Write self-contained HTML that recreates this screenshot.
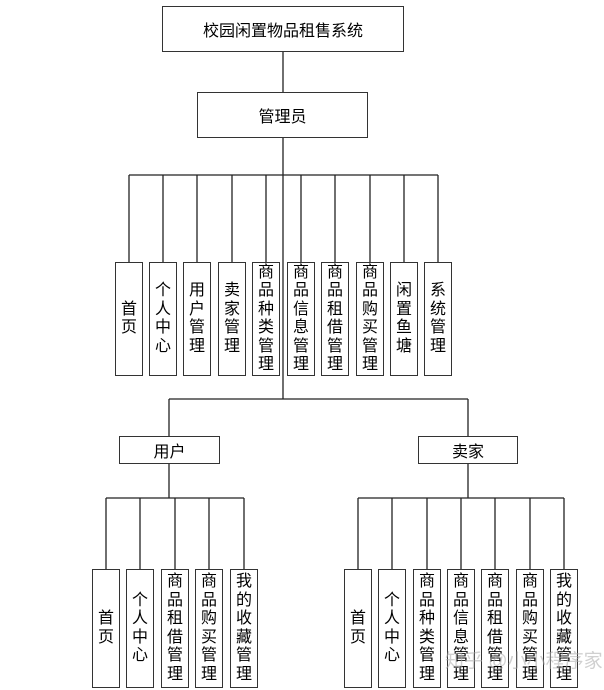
<!DOCTYPE html>
<html><head><meta charset="utf-8"><style>
body{margin:0;width:604px;height:690px;background:#fff;position:relative;overflow:hidden;font-family:"Liberation Sans","Noto Sans CJK SC",sans-serif;color:#000}
.b{position:absolute;box-sizing:border-box;border:1.5px solid #333;background:#fff;display:flex;align-items:center;justify-content:center;font-size:16px}
.v{width:28px;flex-direction:column;line-height:18.5px;text-align:center}
.t{top:262px;height:114px}
.u{top:569px;height:119px}
svg{position:absolute;left:0;top:0}
.wm{position:absolute;left:445px;top:646px;font-size:19px;color:rgba(170,170,170,0.55);white-space:nowrap}
</style></head><body>
<svg width="604" height="690"><g stroke="#222" stroke-width="1.3" fill="none">
<path d="M283 52V92M283 137V399M129 175H438"/>
<path d="M129 175V262M163 175V262M197 175V262M232 175V262M266 175V262M301 175V262M335 175V262M370 175V262M404 175V262M438 175V262"/>
<path d="M169 399H468M169 399V436M468 399V436"/>
<path d="M169 463V498M106 498H244M106 498V569M140 498V569M175 498V569M209 498V569M244 498V569"/>
<path d="M468 463V498M358 498H564M358 498V569M392 498V569M427 498V569M461 498V569M495 498V569M530 498V569M564 498V569"/>
</g></svg>
<div class="b" style="left:162px;top:6px;width:242px;height:46px">校园闲置物品租售系统</div>
<div class="b" style="left:197px;top:92px;width:171px;height:46px">管理员</div>

<div class="b v t" style="left:115px">首<br>页</div>
<div class="b v t" style="left:149px">个<br>人<br>中<br>心</div>
<div class="b v t" style="left:183px">用<br>户<br>管<br>理</div>
<div class="b v t" style="left:218px">卖<br>家<br>管<br>理</div>
<div class="b v t" style="left:252px">商<br>品<br>种<br>类<br>管<br>理</div>
<div class="b v t" style="left:287px">商<br>品<br>信<br>息<br>管<br>理</div>
<div class="b v t" style="left:321px">商<br>品<br>租<br>借<br>管<br>理</div>
<div class="b v t" style="left:356px">商<br>品<br>购<br>买<br>管<br>理</div>
<div class="b v t" style="left:390px">闲<br>置<br>鱼<br>塘</div>
<div class="b v t" style="left:424px">系<br>统<br>管<br>理</div>

<div class="b" style="left:119px;top:436px;width:101px;height:28px">用户</div>
<div class="b" style="left:418px;top:436px;width:100px;height:28px">卖家</div>

<div class="b v u" style="left:92px">首<br>页</div>
<div class="b v u" style="left:126px">个<br>人<br>中<br>心</div>
<div class="b v u" style="left:161px">商<br>品<br>租<br>借<br>管<br>理</div>
<div class="b v u" style="left:195px">商<br>品<br>购<br>买<br>管<br>理</div>
<div class="b v u" style="left:230px">我<br>的<br>收<br>藏<br>管<br>理</div>

<div class="b v u" style="left:344px">首<br>页</div>
<div class="b v u" style="left:378px">个<br>人<br>中<br>心</div>
<div class="b v u" style="left:413px">商<br>品<br>种<br>类<br>管<br>理</div>
<div class="b v u" style="left:447px">商<br>品<br>信<br>息<br>管<br>理</div>
<div class="b v u" style="left:481px">商<br>品<br>租<br>借<br>管<br>理</div>
<div class="b v u" style="left:516px">商<br>品<br>购<br>买<br>管<br>理</div>
<div class="b v u" style="left:550px">我<br>的<br>收<br>藏<br>管<br>理</div>
<div class="wm">知乎 @小小程序家</div>
</body></html>
